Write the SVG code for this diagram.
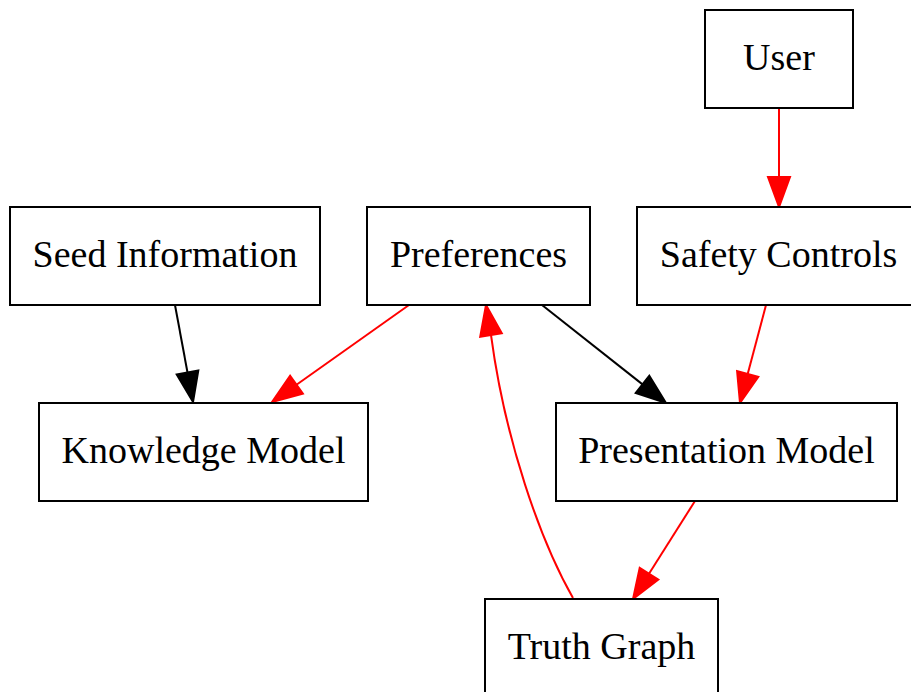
<svg xmlns="http://www.w3.org/2000/svg" width="911" height="692" viewBox="0 0 911 692">
  <style>
    .node rect { fill: #ffffff; stroke: #000000; stroke-width: 2; }
    .node text { font-family: "Liberation Serif", "Times New Roman", serif; font-size: 38px; fill: #000000; text-anchor: middle; }
    .edge path { fill: none; stroke-width: 2; }
    .edge.black path { stroke: #000000; }
    .edge.black polygon { fill: #000000; stroke: #000000; stroke-width: 2; }
    .edge.red path { stroke: #ff0000; }
    .edge.red polygon { fill: #ff0000; stroke: #ff0000; stroke-width: 2; }
  </style>
  <rect width="911" height="692" fill="#ffffff"/>

  <g id="edges">
    <!-- User -> Safety Controls -->
    <g class="edge red">
      <path d="M779,108 L779,177"/>
      <polygon points="779,207 768,177 790,177"/>
    </g>
    <!-- Seed Information -> Knowledge Model -->
    <g class="edge black">
      <path d="M175,305 L187.5,372.5"/>
      <polygon points="193,402 198.3,370.5 176.7,374.5"/>
    </g>
    <!-- Preferences -> Knowledge Model -->
    <g class="edge red">
      <path d="M409,305 L296.5,384.7"/>
      <polygon points="272,402 302.9,393.7 290.1,375.7"/>
    </g>
    <!-- Preferences -> Presentation Model -->
    <g class="edge black">
      <path d="M542,305 L642.5,384.4"/>
      <polygon points="666,403 649.3,375.8 635.7,393"/>
    </g>
    <!-- Safety Controls -> Presentation Model -->
    <g class="edge red">
      <path d="M766,305 L747.7,374"/>
      <polygon points="740,403 758.3,376.8 737.1,371.2"/>
    </g>
    <!-- Presentation Model -> Truth Graph -->
    <g class="edge red">
      <path d="M695,501 L649,573.7"/>
      <polygon points="633,599 658.3,579.6 639.7,567.8"/>
    </g>
    <!-- Truth Graph -> Preferences -->
    <g class="edge red">
      <path d="M573,598 C540,540 505,440 491,335"/>
      <polygon points="486,305 501.8,333.2 480.2,336.8"/>
    </g>
  </g>

  <g id="user" class="node">
    <rect x="705" y="10" width="148" height="98"/>
    <text x="779" y="70">User</text>
  </g>
  <g id="safety-controls" class="node">
    <rect x="637" y="207" width="283" height="98"/>
    <text x="778.5" y="267">Safety Controls</text>
  </g>
  <g id="seed-information" class="node">
    <rect x="10" y="207" width="310" height="98"/>
    <text x="165" y="267">Seed Information</text>
  </g>
  <g id="preferences" class="node">
    <rect x="367" y="207" width="223" height="98"/>
    <text x="478.5" y="267">Preferences</text>
  </g>
  <g id="knowledge-model" class="node">
    <rect x="39" y="403" width="329" height="98"/>
    <text x="203.5" y="463">Knowledge Model</text>
  </g>
  <g id="presentation-model" class="node">
    <rect x="556" y="403" width="341" height="98"/>
    <text x="726.5" y="463">Presentation Model</text>
  </g>
  <g id="truth-graph" class="node">
    <rect x="485" y="599" width="233" height="98"/>
    <text x="601.5" y="659">Truth Graph</text>
  </g>
</svg>
